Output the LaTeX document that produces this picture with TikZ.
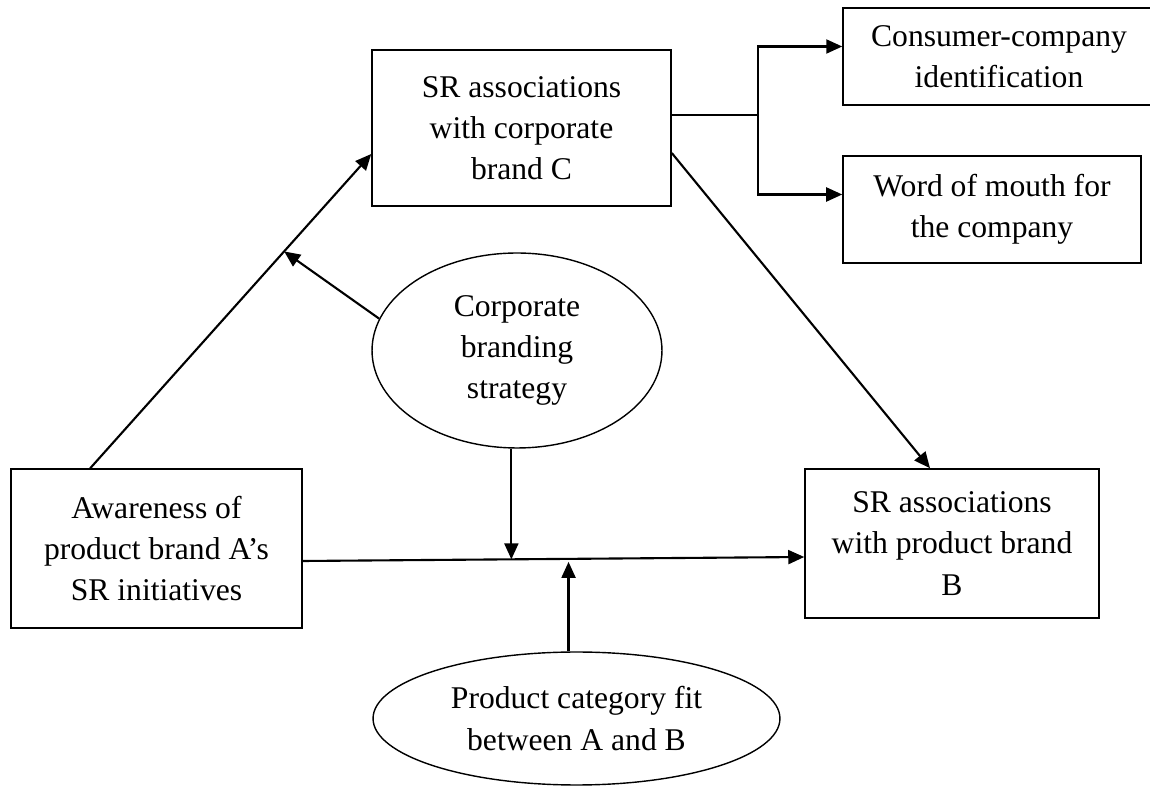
\documentclass[tikz,border=0pt]{standalone}
\usepackage{fontspec}
\setmainfont{Liberation Serif}
\usetikzlibrary{positioning, shapes.geometric, arrows.meta, calc}

\begin{document}
\begin{tikzpicture}[x=0.02cm, y=-0.02cm, font=\fontsize{18}{23.5}\selectfont,
    box/.style={draw, line width=0.9pt, align=center, inner sep=2pt},
    oval/.style={draw, ellipse, line width=0.8pt, align=center, inner sep=0pt},
    arr/.style={line width=1.2pt, -{Triangle[length=0.32cm, width=0.28cm]}}]
  \useasboundingbox (0,0) rectangle (1150,786);
  % boxes
  \node[box, minimum width=5.98cm, minimum height=3.12cm] (corpC) at (521.5,128) {SR associations\\with corporate\\brand C};
  \node[box, minimum width=6.24cm, minimum height=1.94cm] (ident) at (999,56.5) {Consumer-company\\identification};
  \node[box, minimum width=5.96cm, minimum height=2.14cm] (wom) at (992,209.5) {Word of mouth for\\the company};
  \node[box, minimum width=5.82cm, minimum height=3.18cm] (aware) at (156.5,548.5) {Awareness of\\product brand A’s\\SR initiatives};
  \node[box, minimum width=5.88cm, minimum height=2.98cm] (prodB) at (952,543.5) {SR associations\\with product brand\\B};
  % moderators
  \node[oval, minimum width=5.8cm, minimum height=3.9cm] (strat) at (517,350.5) {Corporate\\branding\\strategy};
  \node[oval, minimum width=8.14cm, minimum height=2.66cm] (catfit) at (576.5,718.5) {Product category fit\\between A and B};

  % A -> C
  \coordinate (up1) at ([shift={(80,0)}]aware.north west);
  \coordinate (up2) at ([shift={(0,26)}]corpC.west);
  \draw[arr] (up1) -- (up2);
  \draw[arr] (strat.167) -- ($(up1)!0.69!(up2)$);
  % A -> B
  \coordinate (h1) at ([shift={(0,12.5)}]aware.east);
  \coordinate (h2) at ([shift={(0,13.5)}]prodB.west);
  \draw[arr] (h1) -- (h2);
  \coordinate (m2) at ($(h1)!0.416!(h2)$);
  \coordinate (m3) at ($(h1)!0.53!(h2)$);
  \draw[arr] (strat.south -| m2) -- (m2);
  \draw[arr] (catfit.north -| m3) -- ([shift={(0,3)}]m3);
  % C -> outcomes
  \coordinate (fk) at ([shift={(86,-13)}]corpC.east);
  \draw[line width=1.2pt] ([shift={(0,-13)}]corpC.east) -- (fk);
  \draw[arr] (fk) |- ([shift={(0,-10)}]ident.west);
  \draw[arr] (fk) |- ([shift={(0,-15)}]wom.west);
  % C -> B
  \draw[arr] ([shift={(0,25)}]corpC.east) -- ([shift={(-22,0)}]prodB.north);
\end{tikzpicture}
\end{document}
